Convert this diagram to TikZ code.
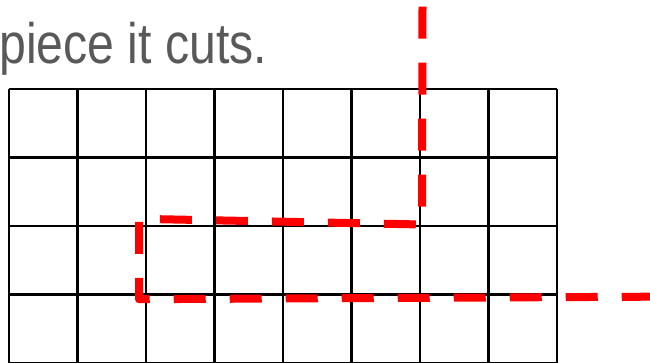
\documentclass[tikz,border=0pt]{standalone}
\usepackage{fontspec}
\setmainfont{Liberation Sans}
\definecolor{txtgray}{HTML}{595959}
\definecolor{cutred}{HTML}{FF0000}
\tikzset{
  gridline/.style={black, line width=2.1pt},
  cutline/.style={cutred, line width=8pt, dash pattern=on 32pt off 24pt, line join=round},
  caption/.style={txtgray, inner sep=0pt, anchor=base west, font=\fontsize{57}{57}\selectfont, xscale=0.845}
}
\begin{document}
\begin{tikzpicture}[x=1pt,y=-1pt]
\useasboundingbox (0,0) rectangle (650,362);
\clip (0,0) rectangle (650,362);
\fill[white] (0,0) rectangle (650,362);
% caption
\node[caption] (cap) at (-0.8,63.3) {piece it cuts.};
% grid
\foreach \i in {0,...,8} {
  \draw[gridline] ({9+68.5*\i},89) -- ({9+68.5*\i},370);
}
\foreach \j in {0,...,4} {
  \draw[gridline] (9,{89+68.5*\j}) -- (557,{89+68.5*\j});
}
% cut path
\coordinate (c0) at (422.5,6.7);
\coordinate (c1) at (422,224.5);
\coordinate (c2) at (139,218.8);
\coordinate (c3) at (139,299.2);
\coordinate (c4) at (670,296.6);
\draw[cutline] (c0) -- (c1) -- (c2) -- (c3) -- (c4);
\end{tikzpicture}
\end{document}
